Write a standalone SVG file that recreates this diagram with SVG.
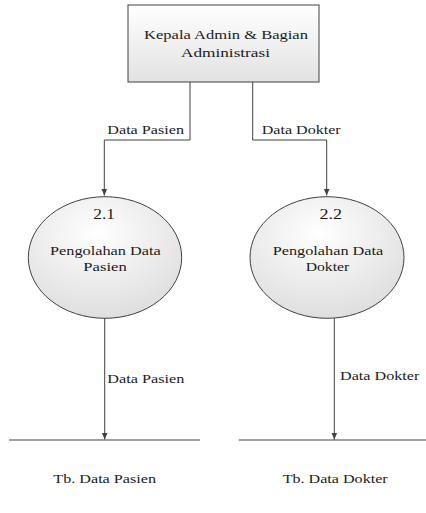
<svg xmlns="http://www.w3.org/2000/svg" width="426" height="513" viewBox="0 0 426 513">
<style>
text{font-family:"Liberation Serif","Times New Roman","DejaVu Serif",serif;fill:#1a1a1a;}
.lbl{font-size:11.5px;}
.num{font-size:14px;}
.nm{font-size:12.5px;}
.ln{stroke:#404040;stroke-width:1;fill:none;}
.shape{stroke:#404040;stroke-width:1;}
</style>
<defs>
<linearGradient id="gBox" x1="0" y1="0" x2="0" y2="1">
<stop offset="0" stop-color="#ffffff"/>
<stop offset="1" stop-color="#e2e2e2"/>
</linearGradient>
<radialGradient id="gEl" cx="0.45" cy="0.3" r="0.75">
<stop offset="0" stop-color="#ffffff"/>
<stop offset="1" stop-color="#dcdcdc"/>
</radialGradient>
<marker id="arr" markerWidth="8" markerHeight="8" refX="7" refY="4" orient="auto" markerUnits="userSpaceOnUse">
<path d="M0,1 L7,4 L0,7 Z" fill="#404040"/>
</marker>
</defs>
<g id="connectors">
<path class="ln" d="M190,82 V140 H104.3 V195.5" marker-end="url(#arr)"/>
<path class="ln" d="M252.7,82 V140 H326.7 V195.5" marker-end="url(#arr)"/>
<path class="ln" d="M104.7,318 V439.5" marker-end="url(#arr)"/>
<path class="ln" d="M334.3,318 V439.5" marker-end="url(#arr)"/>
<text class="lbl" x="107.3" y="134.3" textLength="76.7" lengthAdjust="spacingAndGlyphs">Data Pasien</text>
<text class="lbl" x="261.7" y="134.3" textLength="79" lengthAdjust="spacingAndGlyphs">Data Dokter</text>
<text class="lbl" x="107.3" y="382.7" textLength="77" lengthAdjust="spacingAndGlyphs">Data Pasien</text>
<text class="lbl" x="340" y="380" textLength="79.3" lengthAdjust="spacingAndGlyphs">Data Dokter</text>
</g>
<g id="kepala-admin">
<rect class="shape" x="128" y="5" width="191" height="77" fill="url(#gBox)"/>
<text class="lbl" x="144" y="39" textLength="164" lengthAdjust="spacingAndGlyphs">Kepala Admin &amp; Bagian</text>
<text class="lbl" x="181" y="57" textLength="89" lengthAdjust="spacingAndGlyphs">Administrasi</text>
</g>
<g id="proses-2-1">
<ellipse class="shape" cx="105" cy="257.5" rx="76.7" ry="60.8" fill="url(#gEl)"/>
<text class="num" x="93.3" y="219.3" textLength="21.7" lengthAdjust="spacingAndGlyphs">2.1</text>
<text class="nm" x="50" y="255" textLength="110.7" lengthAdjust="spacingAndGlyphs">Pengolahan Data</text>
<text class="nm" x="83.3" y="271" textLength="43.4" lengthAdjust="spacingAndGlyphs">Pasien</text>
</g>
<g id="proses-2-2">
<ellipse class="shape" cx="327" cy="257.5" rx="77" ry="60.8" fill="url(#gEl)"/>
<text class="num" x="319.5" y="219.3" textLength="22.5" lengthAdjust="spacingAndGlyphs">2.2</text>
<text class="nm" x="272.7" y="255" textLength="110.6" lengthAdjust="spacingAndGlyphs">Pengolahan Data</text>
<text class="nm" x="305.7" y="271" textLength="43.6" lengthAdjust="spacingAndGlyphs">Dokter</text>
</g>
<g id="tb-data-pasien">
<line class="ln" x1="9" y1="440" x2="200" y2="440"/>
<text class="lbl" x="53.3" y="482.7" textLength="102.7" lengthAdjust="spacingAndGlyphs">Tb. Data Pasien</text>
</g>
<g id="tb-data-dokter">
<line class="ln" x1="238.7" y1="440" x2="426" y2="440"/>
<text class="lbl" x="282.7" y="482.7" textLength="105" lengthAdjust="spacingAndGlyphs">Tb. Data Dokter</text>
</g>
</svg>
